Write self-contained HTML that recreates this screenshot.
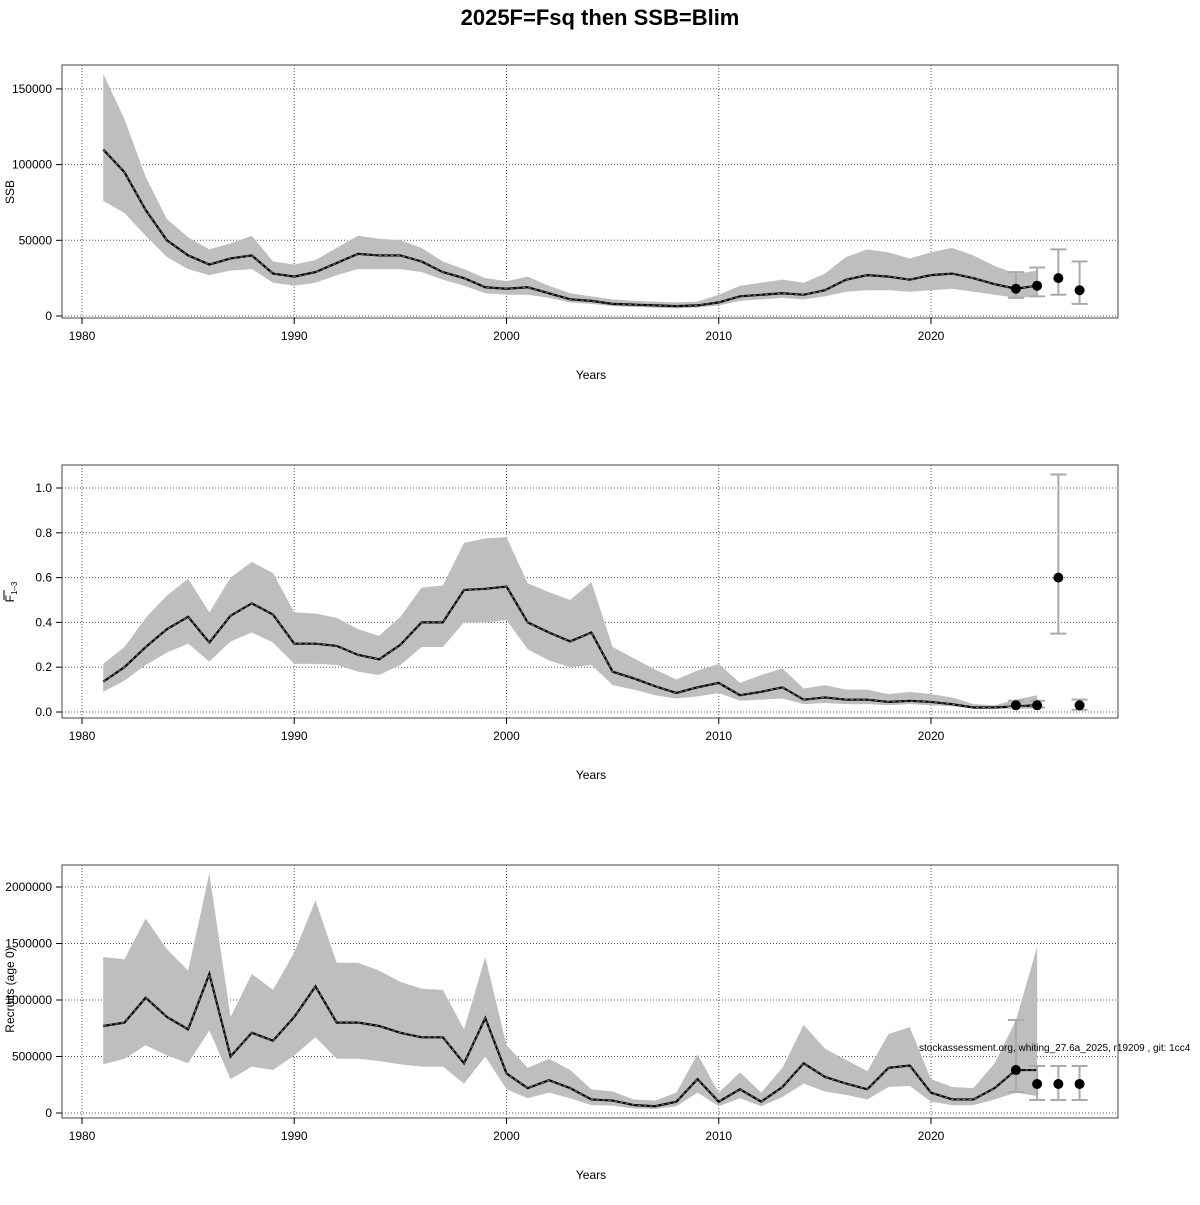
<!DOCTYPE html>
<html><head><meta charset="utf-8"><style>
body{margin:0;background:#fff;}
svg text{font-family:"Liberation Sans",sans-serif;}
</style></head><body>
<svg id="c" width="1200" height="1200" xmlns="http://www.w3.org/2000/svg">
<rect width="1200" height="1200" fill="#fff"/>
<text x="600" y="25" text-anchor="middle" font-size="22" font-weight="bold">2025F=Fsq then SSB=Blim</text>
</svg>
<script>
const years=[];for(let y=1981;y<=2025;y++)years.push(y);
const ssbEst=[110,95,70,50,40,34,38,40,28,26,29,35,41,40,40,36,29,25,19,18,19,15,11,10,8,7.5,7,6.5,7,9,13,14,15,14,17,24,27,26,24,27,28,25,21,18,20];
const ssbLow=[76,68,53,39,31,27,30,31,22,20,22,27,31,31,31,29,24,20,15,14,14,12,9,8,6.5,6,5.5,5,5.5,7,10,11,12,11,13,16,17,17,16,17,18,16,14,12,13];
const ssbHigh=[160,130,92,64,52,44,48,53,36,34,37,45,53,51,50,45,36,31,25,23,26,20,15,13,11,10,9.5,9,9.5,14,20,22,24,22,28,39,44,42,38,42,45,40,33,28,30];
const fEst=[.135,.20,.29,.37,.425,.31,.43,.485,.435,.305,.305,.295,.255,.235,.30,.40,.40,.545,.55,.56,.40,.355,.315,.355,.18,.15,.115,.085,.11,.13,.075,.09,.11,.055,.065,.055,.055,.045,.05,.045,.035,.02,.02,.025,.03];
const fLow=[.09,.14,.21,.265,.305,.225,.315,.355,.31,.215,.215,.21,.18,.165,.21,.29,.29,.40,.40,.41,.28,.23,.20,.21,.12,.10,.075,.06,.07,.085,.05,.055,.06,.035,.04,.035,.035,.03,.035,.03,.025,.015,.015,.015,.015];
const fHigh=[.215,.29,.42,.52,.595,.445,.60,.67,.62,.445,.44,.42,.37,.34,.425,.555,.565,.755,.775,.78,.575,.535,.50,.58,.29,.24,.19,.145,.185,.215,.13,.165,.195,.105,.12,.10,.10,.08,.09,.08,.065,.035,.03,.055,.075];
const recEst=[770,800,1020,850,740,1230,500,710,640,850,1120,800,800,770,710,670,670,440,840,350,220,290,220,120,110,70,60,100,300,100,210,100,230,440,320,260,210,400,420,180,120,120,220,380,380];
const recLow=[430,480,600,510,440,730,300,410,380,510,670,480,480,460,430,410,410,260,500,210,130,180,130,70,65,40,35,60,180,60,130,60,140,260,190,160,120,230,240,100,70,70,120,180,150];
const recHigh=[1380,1360,1720,1450,1260,2120,850,1230,1090,1420,1880,1330,1330,1260,1160,1100,1090,740,1380,600,400,480,380,210,190,120,110,180,520,180,360,180,400,780,570,470,370,700,760,300,230,220,440,820,1470];
const fcYears=[2024,2025,2026,2027];
const ssbFc=[18,20,25,17],ssbFcLo=[12,13,14,8],ssbFcHi=[29,32,44,36];
const fFc=[.03,.03,.60,.03],fFcLo=[.02,.02,.35,.01],fFcHi=[.05,.05,1.06,.055];
const recFc=[380,257,257,257],recFcLo=[186,115,115,115],recFcHi=[823,416,416,416];
const xTicks=[1980,1990,2000,2010,2020];
const ssbTicks=[0,50000,100000,150000];
const fTicks=[0,0.2,0.4,0.6,0.8,1.0];
const recTicks=[0,500000,1000000,1500000,2000000];

const svg=document.getElementById('c');const NS='http://www.w3.org/2000/svg';
function el(t,a,p){const e=document.createElementNS(NS,t);for(const k in a)e.setAttribute(k,a[k]);(p||svg).appendChild(e);return e;}
const xs=y=>82+(y-1980)*21.225;
function panel(o){
  const g=el('g',{});
  
  
  const ys=v=>o.y0-(v*o.scale-o.min)*o.ppu;
  // grid
  xTicks.forEach(t=>{const l=el('line',{x1:xs(t),x2:xs(t),y1:o.top,y2:o.bot,stroke:'#555','stroke-dasharray':'1,2','stroke-width':1},g);});
  o.ticks.forEach(t=>{const yy=o.y0-t*o.ppu;const l=el('line',{x1:62,x2:1118,y1:yy,y2:yy,stroke:'#555','stroke-dasharray':'1,2','stroke-width':1},g);
    const tk=el('line',{x1:56,x2:62,y1:yy,y2:yy,stroke:'#000'},g);
    const tx=el('text',{x:52,y:yy+4,'text-anchor':'end','font-size':12},g);tx.textContent=o.fmt(t);});
  // band
  let pts=years.map((y,i)=>xs(y)+','+ys(o.hi[i])).concat(years.map((y,i)=>xs(y)+','+ys(o.lo[i])).reverse());
  const b=el('polygon',{points:pts.join(' '),fill:'#bebebe'},g);
  const lp=years.map((y,i)=>xs(y)+','+ys(o.est[i])).join(' ');
  const l1=el('polyline',{points:lp,fill:'none',stroke:'#000','stroke-width':2.2},g);
  const l2=el('polyline',{points:lp,fill:'none',stroke:'#777','stroke-width':1,'stroke-dasharray':'3,3'},g);
  fcYears.forEach((y,i)=>{const x=xs(y);
    const e=el('g',{},g);
    el('line',{x1:x,x2:x,y1:ys(o.fhi[i]),y2:ys(o.flo[i]),stroke:'#aaa','stroke-width':2},e);
    el('line',{x1:x-8,x2:x+8,y1:ys(o.fhi[i]),y2:ys(o.fhi[i]),stroke:'#aaa','stroke-width':2},e);
    el('line',{x1:x-8,x2:x+8,y1:ys(o.flo[i]),y2:ys(o.flo[i]),stroke:'#aaa','stroke-width':2},e);
    el('circle',{cx:x,cy:ys(o.fv[i]),r:5,fill:'#000'},e);});
  const box=el('rect',{x:62,y:o.top,width:1056,height:o.bot-o.top,fill:'none',stroke:'#444'},g);
  xTicks.forEach(t=>{const tk=el('line',{x1:xs(t),x2:xs(t),y1:o.bot,y2:o.bot+6,stroke:'#000'},g);
    const tx=el('text',{x:xs(t),y:o.bot+22,'text-anchor':'middle','font-size':12},g);tx.textContent=t;});
  const xl=el('text',{x:591,y:o.bot+61,'text-anchor':'middle','font-size':12},g);xl.textContent='Years';
  return g;
}
panel({name:'ssb-panel',top:65,bot:318,y0:316,ppu:75.7/50000,scale:1000,min:0,est:ssbEst,lo:ssbLow,hi:ssbHigh,fv:ssbFc,flo:ssbFcLo,fhi:ssbFcHi,ticks:ssbTicks,fmt:t=>String(t)});
panel({name:'f-panel',top:465,bot:718,y0:712,ppu:224,scale:1,min:0,est:fEst,lo:fLow,hi:fHigh,fv:fFc,flo:fFcLo,fhi:fFcHi,ticks:fTicks,fmt:t=>t.toFixed(1)});
panel({name:'recruit-panel',top:865,bot:1118,y0:1113,ppu:56.5/500000,scale:1000,min:0,est:recEst,lo:recLow,hi:recHigh,fv:recFc,flo:recFcLo,fhi:recFcHi,ticks:recTicks,fmt:t=>String(t)});
function ylab(txt,y,name){const t=el('text',{x:14,y:y,'text-anchor':'middle','font-size':12,transform:'rotate(-90 14 '+y+')'});t.textContent=txt;return t;}
ylab('SSB',192,'ssb-axis-title');
const ft=ylab('F',592,'f-axis-title');const ts=el('tspan',{'font-size':8,dy:3},ft);ts.textContent='1–3';
el('line',{x1:4,x2:4,y1:600,y2:590,stroke:'#000'});
ylab('Recruits (age 0)',990,'recruit-axis-title');
const wm=el('text',{x:919,y:1051,'font-size':10});wm.textContent='stockassessment.org, whiting_27.6a_2025, r19209 , git: 1cc4';


</script>
</body></html>
